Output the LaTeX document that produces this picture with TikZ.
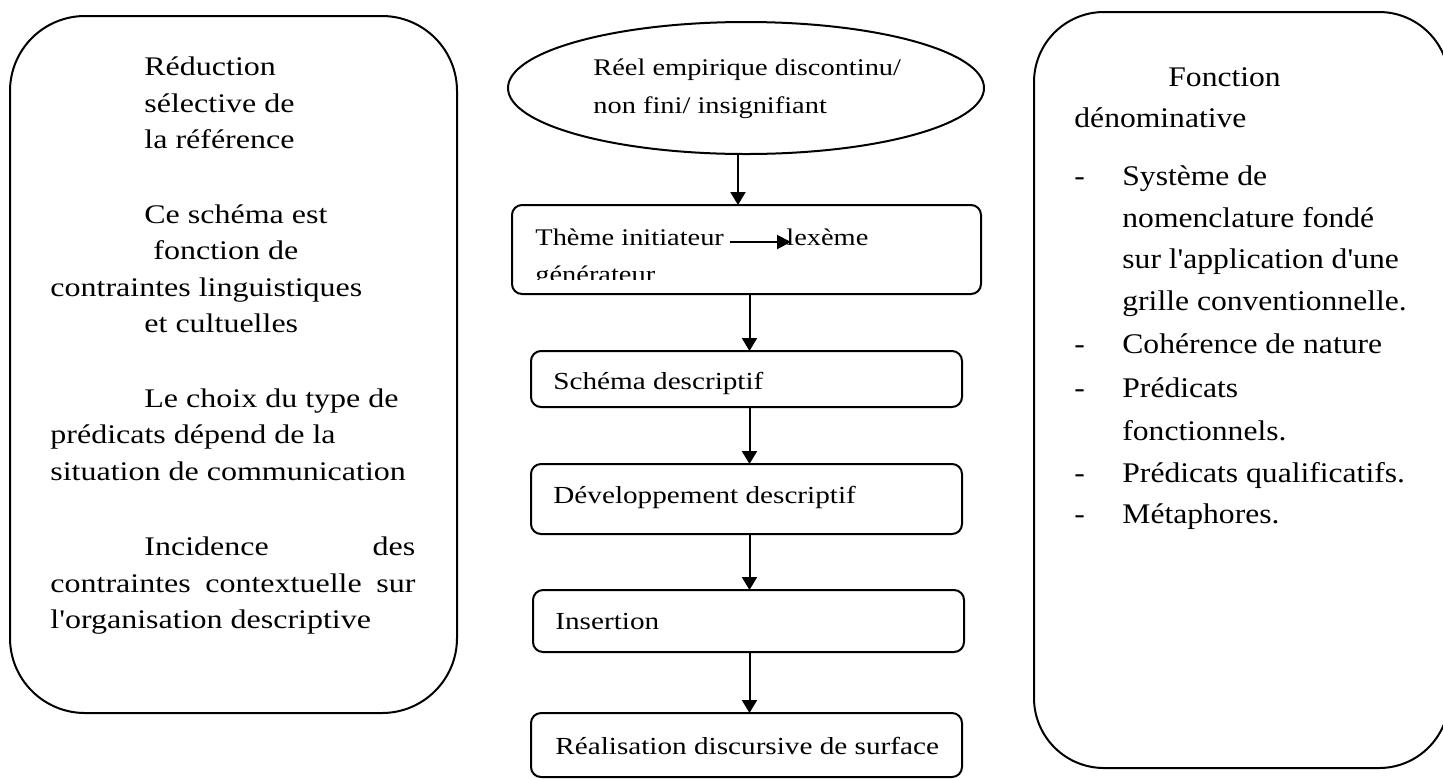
\documentclass[tikz,border=0pt]{standalone}
\usepackage{fontspec}
\setmainfont{Liberation Serif}[Ligatures=TeXOff]
\usetikzlibrary{arrows.meta,shapes.geometric}
\newcommand{\vsL}[1]{\scalebox{1}[0.84]{#1}}
\newcommand{\vsR}[1]{\scalebox{1}[0.9]{#1}}
\tikzset{
  frame/.style={draw, line width=1pt, inner sep=0pt, outer sep=0pt},
  cbox/.style={frame, rounded corners=5pt},
  ltxt/.style={anchor=base west, inner sep=0pt, font=\fontsize{16pt}{19pt}\selectfont},
  rtxt/.style={anchor=base west, inner sep=0pt, font=\fontsize{15.8pt}{19pt}\selectfont},
  ctxt/.style={anchor=base west, inner sep=0pt, font=\fontsize{14.6pt}{18pt}\selectfont},
  etxt/.style={anchor=base west, inner sep=0pt, font=\fontsize{14.2pt}{18pt}\selectfont},
  arr/.style={line width=1pt, -{Triangle[length=6.5pt,width=7.5pt]}},
  iarr/.style={line width=1pt, -{Triangle[length=7pt,width=7pt]}}
}
\begin{document}
\begin{tikzpicture}[x=0.5pt,y=-0.5pt]
\path[use as bounding box, clip] (0,0) rectangle (1443,778);
\fill[white] (0,0) rectangle (1443,778);

% left box
\node[frame, rounded corners=37.5pt, minimum width=223.5pt, minimum height=348.5pt] (L) at (233.5,364.5) {};
\node[ltxt] (l1) at (144,75) {\vsL{Réduction}};
\node[ltxt] (l2) at (144,112) {\vsL{sélective de}};
\node[ltxt] (l3) at (144,148) {\vsL{la référence}};
\node[ltxt] (l4) at (144,223) {\vsL{Ce schéma est}};
\node[ltxt] (l5) at (153,259) {\vsL{fonction de}};
\node[ltxt] (l6) at (50,296) {\vsL{contraintes linguistiques}};
\node[ltxt] (l7) at (144,332) {\vsL{et cultuelles}};
\node[ltxt] (l8) at (144,407) {\vsL{Le choix du type de}};
\node[ltxt] (l9) at (50,443) {\vsL{prédicats dépend de la}};
\node[ltxt] (l10) at (50,480) {\vsL{situation de communication}};
\node[ltxt] (l11) at (144,555) {\vsL{\makebox[135.5pt][l]{Incidence\hfill des}}};
\node[ltxt] (l12) at (50,592) {\vsL{\makebox[182.5pt][l]{contraintes\hfill contextuelle\hfill sur}}};
\node[ltxt] (l13) at (50,628) {\vsL{l'organisation descriptive}};

% right box
\node[frame, rounded corners=35pt, minimum width=207.5pt, minimum height=378pt] (R) at (1241.5,390) {};
\node[rtxt] (r1) at (1168,86) {\vsR{Fonction}};
\node[rtxt] (r2) at (1074,127) {\vsR{dénominative}};
\node[rtxt] (d1) at (1074,185) {\vsR{-}};
\node[rtxt] (r3) at (1122,185) {\vsR{Système de}};
\node[rtxt] (r4) at (1122,227) {\vsR{nomenclature fondé}};
\node[rtxt] (r5) at (1122,268) {\vsR{sur l'application d'une}};
\node[rtxt] (r6) at (1122,310) {\vsR{grille conventionnelle.}};
\node[rtxt] (d2) at (1074,353) {\vsR{-}};
\node[rtxt] (r7) at (1122,353) {\vsR{Cohérence de nature}};
\node[rtxt] (d3) at (1074,397) {\vsR{-}};
\node[rtxt] (r8) at (1122,397) {\vsR{Prédicats}};
\node[rtxt] (r9) at (1122,440) {\vsR{fonctionnels.}};
\node[rtxt] (d4) at (1074,482) {\vsR{-}};
\node[rtxt] (r10) at (1122,482) {\vsR{Prédicats qualificatifs.}};
\node[rtxt] (d5) at (1074,523) {\vsR{-}};
\node[rtxt] (r11) at (1122,523) {\vsR{Métaphores.}};

% centre column
\node[frame, ellipse, minimum width=238pt, minimum height=66pt] (E) at (746,88) {};
\node[etxt] (e1) at (593,75) {\vsL{Réel empirique discontinu/}};
\node[etxt] (e2) at (593,113) {\vsL{non fini/ insignifiant}};

\node[cbox, minimum width=234.5pt, minimum height=44.5pt] (b1) at (746.5,249.5) {};
\node[etxt] (t1) at (535,245) {\vsL{Thème initiateur}};
\node[etxt] (t2) at (786,245) {\vsL{lexème}};
\begin{scope}
\clip (515,200) rectangle (980,279);
\node[etxt] (t3) at (535,282) {\vsL{générateur}};
\end{scope}
\coordinate (ia) at (730,242);
\coordinate (ib) at (791,242);
\draw[iarr] (ia) -- (ib);

\node[cbox, minimum width=215.5pt, minimum height=28pt] (b2) at (746.5,379) {};
\node[ctxt] (s2) at (553,389) {\vsL{Schéma descriptif}};
\node[cbox, minimum width=215.5pt, minimum height=35pt] (b3) at (746.5,499) {};
\node[ctxt] (s3) at (553,503) {\vsL{Développement descriptif}};
\node[cbox, minimum width=215.5pt, minimum height=31pt] (b4) at (748.5,621) {};
\node[ctxt] (s4) at (555,629) {\vsL{Insertion}};
\node[cbox, minimum width=215.5pt, minimum height=32pt] (b5) at (746.5,745) {};
\node[ctxt] (s5) at (555,754) {\vsL{Réalisation discursive de surface}};

\coordinate (ax0) at (738,0);
\coordinate (ax1) at (749.5,0);
\draw[arr] (E.south -| ax0) -- (b1.north -| ax0);
\draw[arr] (b1.south -| ax1) -- (b2.north -| ax1);
\draw[arr] (b2.south -| ax1) -- (b3.north -| ax1);
\draw[arr] (b3.south -| ax1) -- (b4.north -| ax1);
\draw[arr] (b4.south -| ax1) -- (b5.north -| ax1);
\end{tikzpicture}
\end{document}
